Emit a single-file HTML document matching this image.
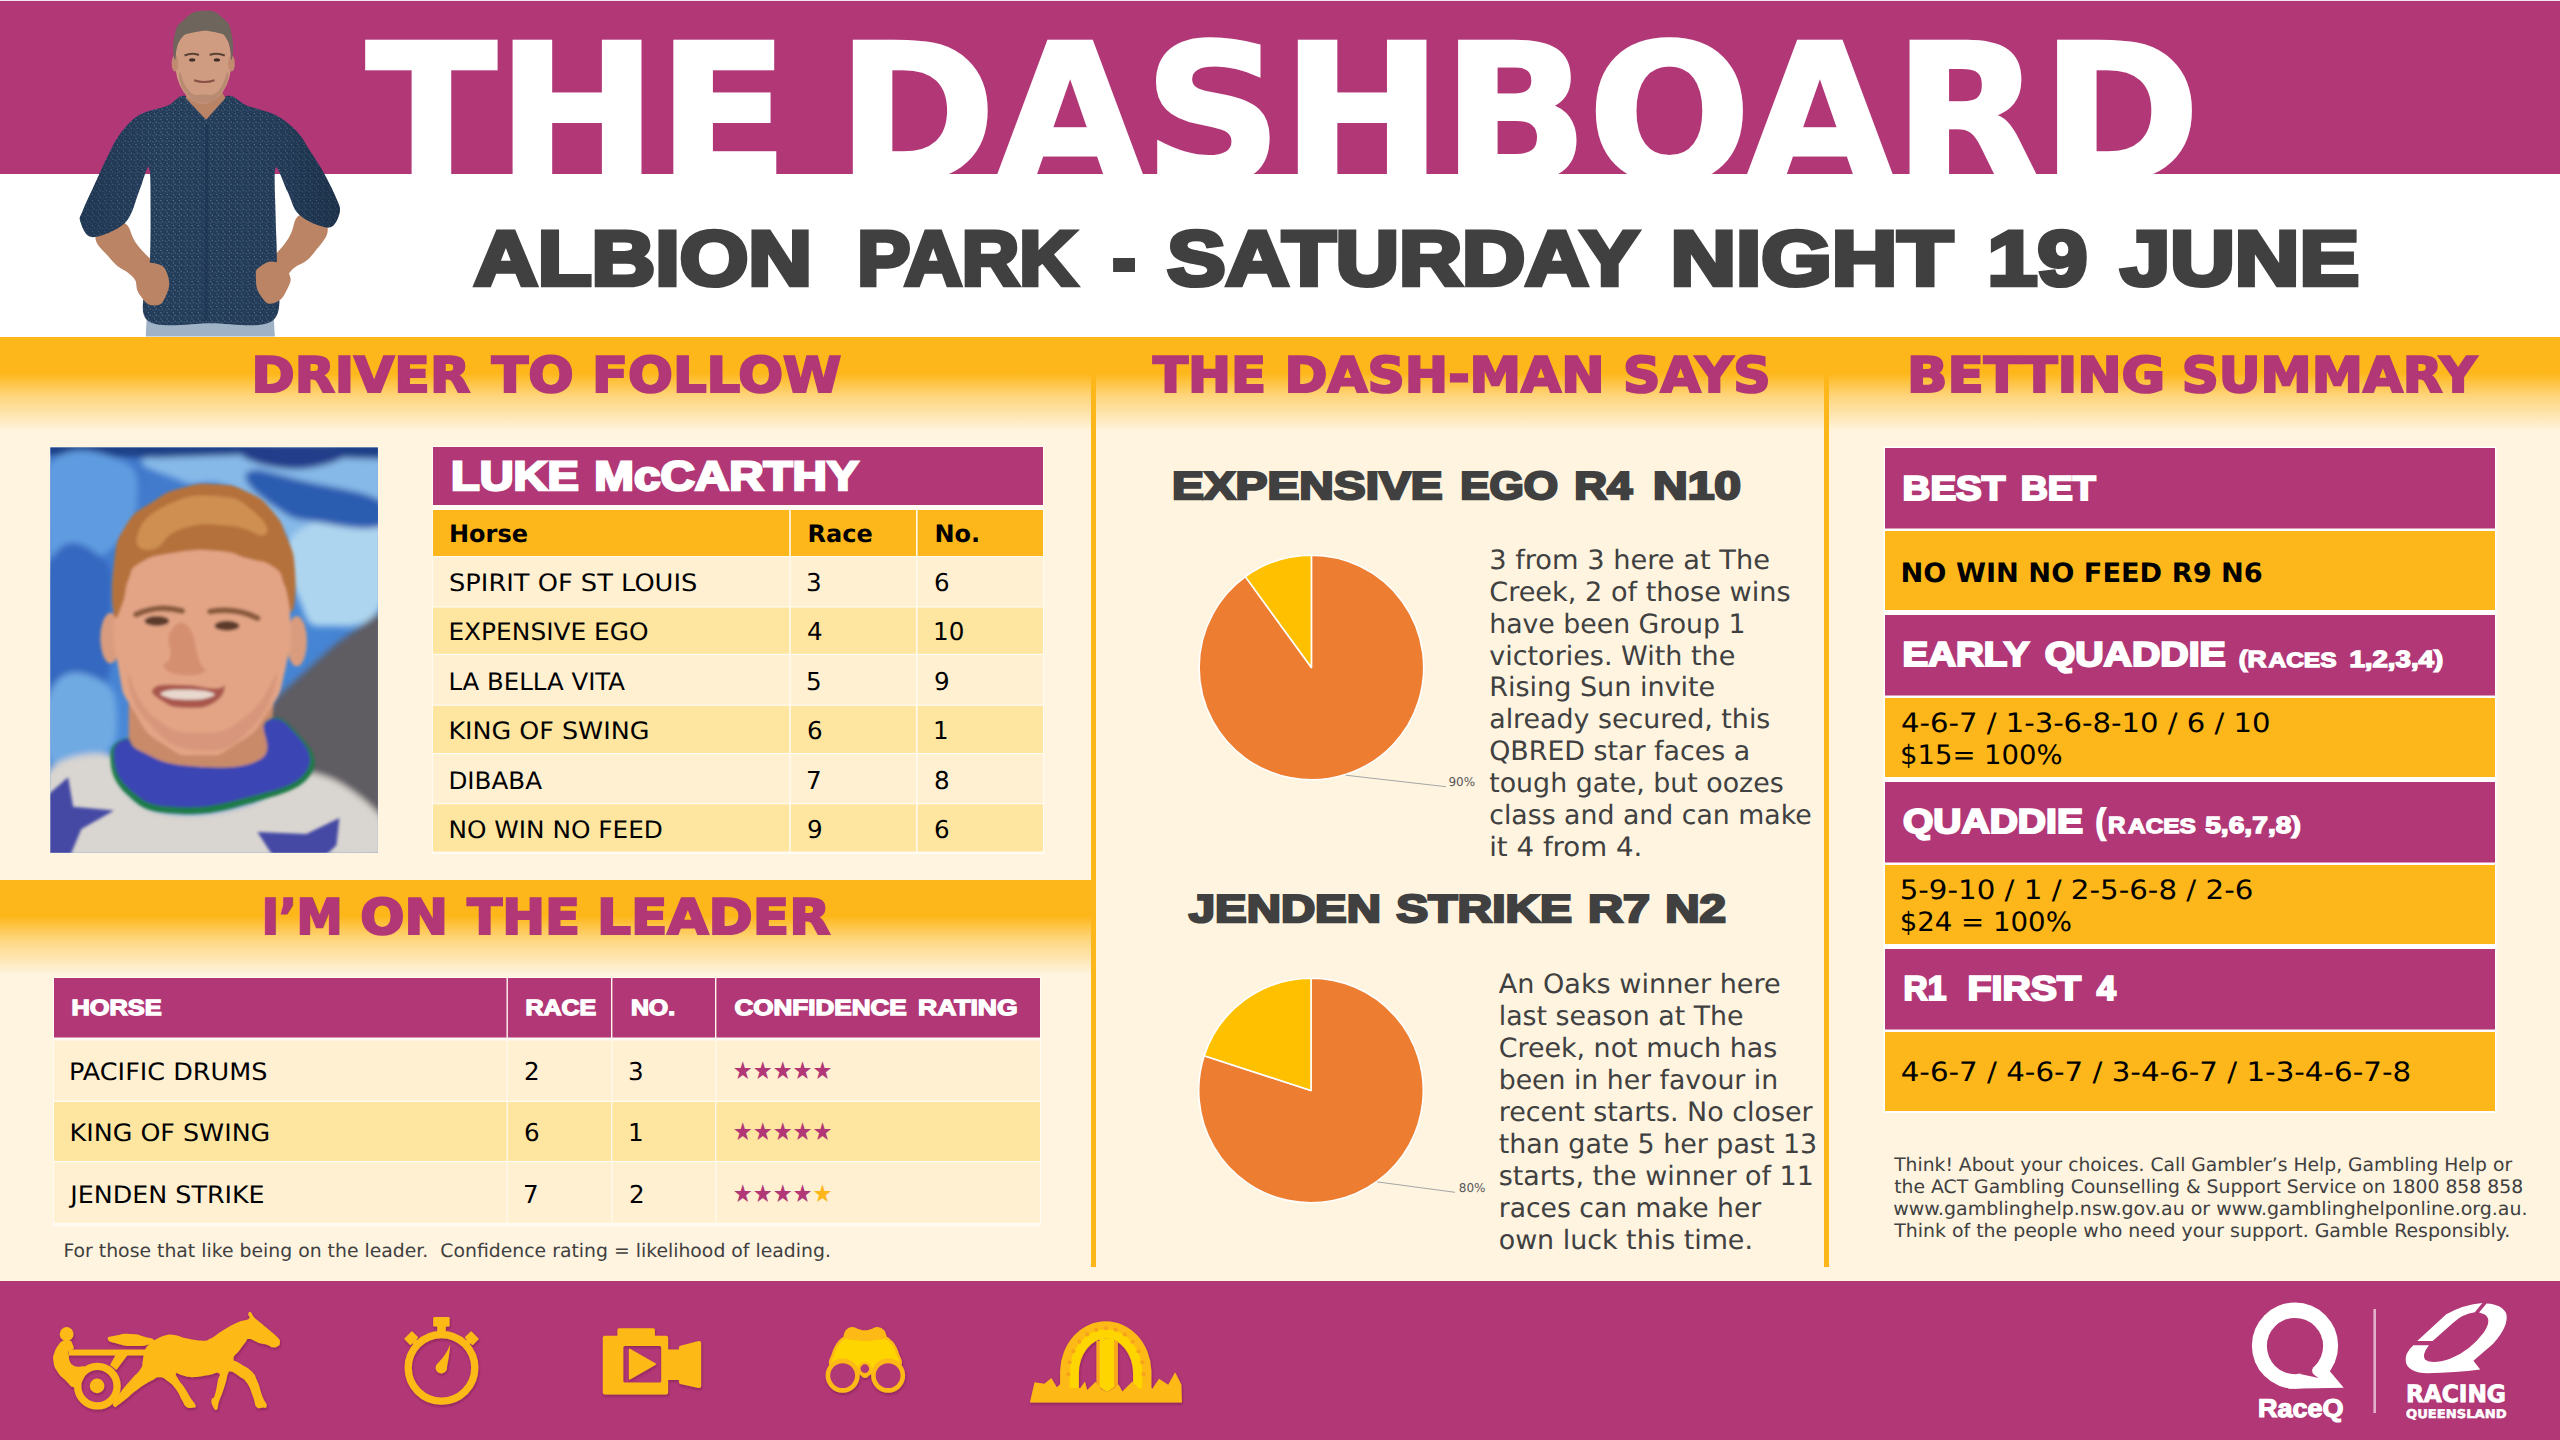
<!DOCTYPE html>
<html lang="en"><head><meta charset="utf-8"><title>The Dashboard - Albion Park - Saturday Night 19 June</title>
<style>
html,body{margin:0;padding:0;background:#FEF4E0;width:2560px;height:1440px;overflow:hidden}
svg{display:block;position:absolute;left:0;top:0}
text{white-space:pre}
</style></head><body>
<svg width="2560" height="1440" viewBox="0 0 2560 1440" text-rendering="geometricPrecision">
<defs>
<linearGradient id="gTop" x1="0" y1="0" x2="0" y2="1">
<stop offset="0" stop-color="#FDB71A"/><stop offset="0.38" stop-color="#FDB71A"/><stop offset="0.62" stop-color="#FED57C"/><stop offset="1" stop-color="#FEF4E0"/>
</linearGradient>
<clipPath id="clipHead"><rect x="0" y="0" width="2560" height="174"/></clipPath>
</defs>
<rect x="0" y="0" width="2560" height="1440" fill="#FEF4E0" />
<rect x="0" y="174" width="2560" height="163" fill="#FFFFFF" />
<rect x="0" y="0" width="2560" height="174" fill="#B13776" />
<rect x="0" y="0" width="2560" height="1" fill="#F3E3EC" />
<rect x="0" y="337" width="2560" height="95" fill="url(#gTop)" />
<rect x="0" y="880" width="1091" height="95" fill="url(#gTop)" />
<rect x="1091" y="337" width="5" height="930" fill="#FDB71A" />
<rect x="1824" y="337" width="5" height="930" fill="#FDB71A" />
<rect x="0" y="1281" width="2560" height="159" fill="#B13776" />
<rect x="432" y="446" width="612" height="408" fill="#FFFFFF" opacity="0.6"/>
<rect x="433" y="447" width="610" height="58" fill="#B13776" />
<rect x="433" y="510" width="610" height="46" fill="#FDB71A" />
<rect x="433" y="557" width="610" height="49.3" fill="#FFF0D2" />
<rect x="433" y="607.5" width="610" height="46.3" fill="#FEE6A0" />
<rect x="433" y="655" width="610" height="49.59999999999995" fill="#FFF0D2" />
<rect x="433" y="705.8" width="610" height="47.20000000000009" fill="#FEE6A0" />
<rect x="433" y="754.2" width="610" height="48.8" fill="#FFF0D2" />
<rect x="433" y="804.2" width="610" height="47.3" fill="#FEE6A0" />
<rect x="789.2" y="510" width="1.6" height="342.5" fill="#FFFAF0" />
<rect x="916" y="510" width="1.6" height="342.5" fill="#FFFAF0" />
<rect x="53" y="977" width="988" height="249.5" fill="#FFFFFF" opacity="0.6"/>
<rect x="54" y="978" width="986" height="59.5" fill="#B13776" />
<rect x="54" y="1040.5" width="986" height="60.3" fill="#FFF0D2" />
<rect x="54" y="1102" width="986" height="59.00000000000004" fill="#FEE6A0" />
<rect x="54" y="1162.2" width="986" height="60.59999999999995" fill="#FFF0D2" />
<rect x="506.5" y="978" width="1.4" height="246.5" fill="#FFF7EA" />
<rect x="611" y="978" width="1.4" height="246.5" fill="#FFF7EA" />
<rect x="715" y="978" width="1.4" height="246.5" fill="#FFF7EA" />
<rect x="1883.5" y="446.5" width="613" height="666.5" fill="#FFFFFF" />
<rect x="1885" y="448" width="610" height="80.5" fill="#B13776" />
<rect x="1885" y="531" width="610" height="79" fill="#FDB71A" />
<rect x="1885" y="615" width="610" height="80.5" fill="#B13776" />
<rect x="1885" y="698" width="610" height="79" fill="#FDB71A" />
<rect x="1885" y="782" width="610" height="80.5" fill="#B13776" />
<rect x="1885" y="865" width="610" height="79" fill="#FDB71A" />
<rect x="1885" y="949" width="610" height="80.5" fill="#B13776" />
<rect x="1885" y="1032" width="610" height="79" fill="#FDB71A" />
<g clip-path="url(#clipHead)">
<text font-family="'DejaVu Sans', 'Liberation Sans', sans-serif" font-size="190" fill="#FFFFFF" font-weight="bold" stroke="#FFFFFF" stroke-width="3.4" stroke-linejoin="miter" stroke-miterlimit="3"><tspan x="366.0" y="180.3" textLength="422.52" lengthAdjust="spacingAndGlyphs">THE</tspan> <tspan x="837.0" y="180.3" textLength="1363.09" lengthAdjust="spacingAndGlyphs">DASHBOARD</tspan></text>
</g>
<text font-family="'Liberation Sans', sans-serif" font-size="77.3" fill="#404040" font-weight="bold" stroke="#404040" stroke-width="4.7" stroke-linejoin="miter" stroke-miterlimit="3"><tspan x="474.0" y="285.25" textLength="337.86" lengthAdjust="spacingAndGlyphs">ALBION</tspan> <tspan x="857.3" y="285.25" textLength="219.45" lengthAdjust="spacingAndGlyphs">PARK</tspan> <tspan x="1112.5" y="285.25" textLength="23.18" lengthAdjust="spacingAndGlyphs">-</tspan> <tspan x="1167.3" y="285.25" textLength="469.88" lengthAdjust="spacingAndGlyphs">SATURDAY</tspan> <tspan x="1670.5" y="285.25" textLength="282.35" lengthAdjust="spacingAndGlyphs">NIGHT</tspan> <tspan x="1987.6" y="285.25" textLength="99.7" lengthAdjust="spacingAndGlyphs">19</tspan> <tspan x="2120.4" y="285.25" textLength="238.72" lengthAdjust="spacingAndGlyphs">JUNE</tspan></text>
<text font-family="'DejaVu Sans', 'Liberation Sans', sans-serif" font-size="49" fill="#B13776" font-weight="bold" stroke="#B13776" stroke-width="2.2" stroke-linejoin="miter" stroke-miterlimit="3"><tspan x="251.5" y="391.9" textLength="218.44" lengthAdjust="spacingAndGlyphs">DRIVER</tspan> <tspan x="491.75" y="391.9" textLength="81.85" lengthAdjust="spacingAndGlyphs">TO</tspan> <tspan x="592.0" y="391.9" textLength="249.3" lengthAdjust="spacingAndGlyphs">FOLLOW</tspan></text>
<text font-family="'DejaVu Sans', 'Liberation Sans', sans-serif" font-size="49" fill="#B13776" font-weight="bold" stroke="#B13776" stroke-width="2.2" stroke-linejoin="miter" stroke-miterlimit="3"><tspan x="1153.0" y="391.9" textLength="113.2" lengthAdjust="spacingAndGlyphs">THE</tspan> <tspan x="1284.5" y="391.9" textLength="320.02" lengthAdjust="spacingAndGlyphs">DASH-MAN</tspan> <tspan x="1623.0" y="391.9" textLength="147.55" lengthAdjust="spacingAndGlyphs">SAYS</tspan></text>
<text font-family="'DejaVu Sans', 'Liberation Sans', sans-serif" font-size="49" fill="#B13776" font-weight="bold" stroke="#B13776" stroke-width="2.2" stroke-linejoin="miter" stroke-miterlimit="3"><tspan x="1907.0" y="391.9" textLength="258.21" lengthAdjust="spacingAndGlyphs">BETTING</tspan> <tspan x="2181.75" y="391.9" textLength="295.07" lengthAdjust="spacingAndGlyphs">SUMMARY</tspan></text>
<text font-family="'DejaVu Sans', 'Liberation Sans', sans-serif" font-size="49" fill="#B13776" font-weight="bold" stroke="#B13776" stroke-width="2.2" stroke-linejoin="miter" stroke-miterlimit="3"><tspan x="261.75" y="934.4" textLength="80.8" lengthAdjust="spacingAndGlyphs">I’M</tspan> <tspan x="360.25" y="934.4" textLength="87.64" lengthAdjust="spacingAndGlyphs">ON</tspan> <tspan x="467.25" y="934.4" textLength="112.7" lengthAdjust="spacingAndGlyphs">THE</tspan> <tspan x="597.0" y="934.4" textLength="233.22" lengthAdjust="spacingAndGlyphs">LEADER</tspan></text>
<text font-family="'Liberation Sans', sans-serif" font-size="41.2" fill="#FFFFFF" font-weight="bold" stroke="#FFFFFF" stroke-width="2.5" stroke-linejoin="miter" stroke-miterlimit="3"><tspan x="451.1" y="490.15" textLength="127.64" lengthAdjust="spacingAndGlyphs">LUKE</tspan> <tspan x="594.3" y="490.15" textLength="264.4" lengthAdjust="spacingAndGlyphs">McCARTHY</tspan></text>
<text x="449.0" y="542" font-family="'DejaVu Sans', 'Liberation Sans', sans-serif" font-size="24" fill="#000" font-weight="bold">Horse</text>
<text x="807.5" y="542" font-family="'DejaVu Sans', 'Liberation Sans', sans-serif" font-size="24" fill="#000" font-weight="bold">Race</text>
<text x="934.5" y="542" font-family="'DejaVu Sans', 'Liberation Sans', sans-serif" font-size="24" fill="#000" font-weight="bold">No.</text>
<text x="449.0" y="590.8" font-family="'DejaVu Sans', 'Liberation Sans', sans-serif" font-size="24" fill="#000" textLength="248.31" lengthAdjust="spacingAndGlyphs">SPIRIT OF ST LOUIS</text>
<text x="806.0" y="590.8" font-family="'DejaVu Sans', 'Liberation Sans', sans-serif" font-size="24.6" fill="#000">3</text>
<text x="934.0" y="590.8" font-family="'DejaVu Sans', 'Liberation Sans', sans-serif" font-size="24.6" fill="#000">6</text>
<text x="448.4" y="639.6" font-family="'DejaVu Sans', 'Liberation Sans', sans-serif" font-size="24" fill="#000" textLength="200.26" lengthAdjust="spacingAndGlyphs">EXPENSIVE EGO</text>
<text x="807.0" y="639.6" font-family="'DejaVu Sans', 'Liberation Sans', sans-serif" font-size="24.6" fill="#000">4</text>
<text x="933.0" y="639.6" font-family="'DejaVu Sans', 'Liberation Sans', sans-serif" font-size="24.6" fill="#000">10</text>
<text x="448.4" y="689.6" font-family="'DejaVu Sans', 'Liberation Sans', sans-serif" font-size="24" fill="#000" textLength="176.69" lengthAdjust="spacingAndGlyphs">LA BELLA VITA</text>
<text x="806.0" y="689.6" font-family="'DejaVu Sans', 'Liberation Sans', sans-serif" font-size="24.6" fill="#000">5</text>
<text x="934.0" y="689.6" font-family="'DejaVu Sans', 'Liberation Sans', sans-serif" font-size="24.6" fill="#000">9</text>
<text x="448.4" y="738.75" font-family="'DejaVu Sans', 'Liberation Sans', sans-serif" font-size="24" fill="#000" textLength="200.99" lengthAdjust="spacingAndGlyphs">KING OF SWING</text>
<text x="807.0" y="738.75" font-family="'DejaVu Sans', 'Liberation Sans', sans-serif" font-size="24.6" fill="#000">6</text>
<text x="933.0" y="738.75" font-family="'DejaVu Sans', 'Liberation Sans', sans-serif" font-size="24.6" fill="#000">1</text>
<text x="448.4" y="788.75" font-family="'DejaVu Sans', 'Liberation Sans', sans-serif" font-size="24" fill="#000" textLength="93.69" lengthAdjust="spacingAndGlyphs">DIBABA</text>
<text x="806.0" y="788.75" font-family="'DejaVu Sans', 'Liberation Sans', sans-serif" font-size="24.6" fill="#000">7</text>
<text x="934.0" y="788.75" font-family="'DejaVu Sans', 'Liberation Sans', sans-serif" font-size="24.6" fill="#000">8</text>
<text x="448.4" y="837.5" font-family="'DejaVu Sans', 'Liberation Sans', sans-serif" font-size="24" fill="#000" textLength="214.55" lengthAdjust="spacingAndGlyphs">NO WIN NO FEED</text>
<text x="807.0" y="837.5" font-family="'DejaVu Sans', 'Liberation Sans', sans-serif" font-size="24.6" fill="#000">9</text>
<text x="934.0" y="837.5" font-family="'DejaVu Sans', 'Liberation Sans', sans-serif" font-size="24.6" fill="#000">6</text>
<text font-family="'Liberation Sans', sans-serif" font-size="22" fill="#FFFFFF" font-weight="bold" stroke="#FFFFFF" stroke-width="1.35" stroke-linejoin="miter" stroke-miterlimit="3"><tspan x="71.5" y="1014.62" textLength="90.14" lengthAdjust="spacingAndGlyphs">HORSE</tspan></text>
<text font-family="'Liberation Sans', sans-serif" font-size="22" fill="#FFFFFF" font-weight="bold" stroke="#FFFFFF" stroke-width="1.35" stroke-linejoin="miter" stroke-miterlimit="3"><tspan x="525.4" y="1014.62" textLength="70.76" lengthAdjust="spacingAndGlyphs">RACE</tspan></text>
<text font-family="'Liberation Sans', sans-serif" font-size="22" fill="#FFFFFF" font-weight="bold" stroke="#FFFFFF" stroke-width="1.35" stroke-linejoin="miter" stroke-miterlimit="3"><tspan x="630.9" y="1014.62" textLength="44.24" lengthAdjust="spacingAndGlyphs">NO.</tspan></text>
<text font-family="'Liberation Sans', sans-serif" font-size="22" fill="#FFFFFF" font-weight="bold" stroke="#FFFFFF" stroke-width="1.35" stroke-linejoin="miter" stroke-miterlimit="3"><tspan x="734.4" y="1014.62" textLength="172.35" lengthAdjust="spacingAndGlyphs">CONFIDENCE</tspan> <tspan x="918.0" y="1014.62" textLength="99.64" lengthAdjust="spacingAndGlyphs">RATING</tspan></text>
<text x="69.1" y="1079.5" font-family="'DejaVu Sans', 'Liberation Sans', sans-serif" font-size="24" fill="#000" textLength="198.27" lengthAdjust="spacingAndGlyphs">PACIFIC DRUMS</text>
<text x="524.0" y="1079.5" font-family="'DejaVu Sans', 'Liberation Sans', sans-serif" font-size="24.6" fill="#000">2</text>
<text x="628.0" y="1079.5" font-family="'DejaVu Sans', 'Liberation Sans', sans-serif" font-size="24.6" fill="#000">3</text>
<text x="69.6" y="1140.6" font-family="'DejaVu Sans', 'Liberation Sans', sans-serif" font-size="24" fill="#000" textLength="200.69" lengthAdjust="spacingAndGlyphs">KING OF SWING</text>
<text x="524.0" y="1140.6" font-family="'DejaVu Sans', 'Liberation Sans', sans-serif" font-size="24.6" fill="#000">6</text>
<text x="628.0" y="1140.6" font-family="'DejaVu Sans', 'Liberation Sans', sans-serif" font-size="24.6" fill="#000">1</text>
<text x="70.3" y="1202.6" font-family="'DejaVu Sans', 'Liberation Sans', sans-serif" font-size="24" fill="#000" textLength="194.33" lengthAdjust="spacingAndGlyphs">JENDEN STRIKE</text>
<text x="523.0" y="1202.6" font-family="'DejaVu Sans', 'Liberation Sans', sans-serif" font-size="24.6" fill="#000">7</text>
<text x="629.0" y="1202.6" font-family="'DejaVu Sans', 'Liberation Sans', sans-serif" font-size="24.6" fill="#000">2</text>
<text x="63.4" y="1257" font-family="'DejaVu Sans', 'Liberation Sans', sans-serif" font-size="18.67" fill="#404040" textLength="767.49" lengthAdjust="spacingAndGlyphs">For those that like being on the leader.  Confidence rating = likelihood of leading.</text>
<text font-family="'Liberation Sans', sans-serif" font-size="39" fill="#404040" font-weight="bold" stroke="#404040" stroke-width="2.4" stroke-linejoin="miter" stroke-miterlimit="3"><tspan x="1171.9" y="498.7" textLength="270.84" lengthAdjust="spacingAndGlyphs">EXPENSIVE</tspan> <tspan x="1460.2" y="498.7" textLength="97.98" lengthAdjust="spacingAndGlyphs">EGO</tspan> <tspan x="1574.3" y="498.7" textLength="57.97" lengthAdjust="spacingAndGlyphs">R4</tspan> <tspan x="1653.0" y="498.7" textLength="87.97" lengthAdjust="spacingAndGlyphs">N10</tspan></text>
<text font-family="'Liberation Sans', sans-serif" font-size="39" fill="#404040" font-weight="bold" stroke="#404040" stroke-width="2.4" stroke-linejoin="miter" stroke-miterlimit="3"><tspan x="1188.7" y="921.5" textLength="192.26" lengthAdjust="spacingAndGlyphs">JENDEN</tspan> <tspan x="1396.3" y="921.5" textLength="175.72" lengthAdjust="spacingAndGlyphs">STRIKE</tspan> <tspan x="1587.9" y="921.5" textLength="61.97" lengthAdjust="spacingAndGlyphs">R7</tspan> <tspan x="1665.3" y="921.5" textLength="60.75" lengthAdjust="spacingAndGlyphs">N2</tspan></text>
<text x="1489.2" y="568.6" font-family="'DejaVu Sans', 'Liberation Sans', sans-serif" font-size="26.67" fill="#404040" textLength="280.77" lengthAdjust="spacingAndGlyphs">3 from 3 here at The</text>
<text x="1489.2" y="600.57" font-family="'DejaVu Sans', 'Liberation Sans', sans-serif" font-size="26.67" fill="#404040" textLength="301.41" lengthAdjust="spacingAndGlyphs">Creek, 2 of those wins</text>
<text x="1489.2" y="632.54" font-family="'DejaVu Sans', 'Liberation Sans', sans-serif" font-size="26.67" fill="#404040" textLength="256.37" lengthAdjust="spacingAndGlyphs">have been Group 1</text>
<text x="1489.2" y="664.51" font-family="'DejaVu Sans', 'Liberation Sans', sans-serif" font-size="26.67" fill="#404040" textLength="246.17" lengthAdjust="spacingAndGlyphs">victories. With the</text>
<text x="1489.2" y="696.48" font-family="'DejaVu Sans', 'Liberation Sans', sans-serif" font-size="26.67" fill="#404040" textLength="226.05" lengthAdjust="spacingAndGlyphs">Rising Sun invite</text>
<text x="1489.2" y="728.45" font-family="'DejaVu Sans', 'Liberation Sans', sans-serif" font-size="26.67" fill="#404040" textLength="281.15" lengthAdjust="spacingAndGlyphs">already secured, this</text>
<text x="1489.2" y="760.42" font-family="'DejaVu Sans', 'Liberation Sans', sans-serif" font-size="26.67" fill="#404040" textLength="261.04" lengthAdjust="spacingAndGlyphs">QBRED star faces a</text>
<text x="1489.2" y="792.39" font-family="'DejaVu Sans', 'Liberation Sans', sans-serif" font-size="26.67" fill="#404040" textLength="294.44" lengthAdjust="spacingAndGlyphs">tough gate, but oozes</text>
<text x="1489.2" y="824.36" font-family="'DejaVu Sans', 'Liberation Sans', sans-serif" font-size="26.67" fill="#404040" textLength="322.45" lengthAdjust="spacingAndGlyphs">class and and can make</text>
<text x="1489.2" y="856.33" font-family="'DejaVu Sans', 'Liberation Sans', sans-serif" font-size="26.67" fill="#404040" textLength="153.21" lengthAdjust="spacingAndGlyphs">it 4 from 4.</text>
<text x="1498.7" y="993.1" font-family="'DejaVu Sans', 'Liberation Sans', sans-serif" font-size="26.67" fill="#404040" textLength="282.04" lengthAdjust="spacingAndGlyphs">An Oaks winner here</text>
<text x="1498.7" y="1025.06" font-family="'DejaVu Sans', 'Liberation Sans', sans-serif" font-size="26.67" fill="#404040" textLength="244.78" lengthAdjust="spacingAndGlyphs">last season at The</text>
<text x="1498.7" y="1057.02" font-family="'DejaVu Sans', 'Liberation Sans', sans-serif" font-size="26.67" fill="#404040" textLength="278.51" lengthAdjust="spacingAndGlyphs">Creek, not much has</text>
<text x="1498.7" y="1088.98" font-family="'DejaVu Sans', 'Liberation Sans', sans-serif" font-size="26.67" fill="#404040" textLength="279.44" lengthAdjust="spacingAndGlyphs">been in her favour in</text>
<text x="1498.7" y="1120.94" font-family="'DejaVu Sans', 'Liberation Sans', sans-serif" font-size="26.67" fill="#404040" textLength="313.92" lengthAdjust="spacingAndGlyphs">recent starts. No closer</text>
<text x="1498.7" y="1152.9" font-family="'DejaVu Sans', 'Liberation Sans', sans-serif" font-size="26.67" fill="#404040" textLength="318.5" lengthAdjust="spacingAndGlyphs">than gate 5 her past 13</text>
<text x="1498.7" y="1184.86" font-family="'DejaVu Sans', 'Liberation Sans', sans-serif" font-size="26.67" fill="#404040" textLength="315.08" lengthAdjust="spacingAndGlyphs">starts, the winner of 11</text>
<text x="1498.7" y="1216.82" font-family="'DejaVu Sans', 'Liberation Sans', sans-serif" font-size="26.67" fill="#404040" textLength="262.58" lengthAdjust="spacingAndGlyphs">races can make her</text>
<text x="1498.7" y="1248.78" font-family="'DejaVu Sans', 'Liberation Sans', sans-serif" font-size="26.67" fill="#404040" textLength="254.27" lengthAdjust="spacingAndGlyphs">own luck this time.</text>
<text x="1448.4" y="786" font-family="'DejaVu Sans', 'Liberation Sans', sans-serif" font-size="12" fill="#595959">90%</text>
<text x="1458.8" y="1192.2" font-family="'DejaVu Sans', 'Liberation Sans', sans-serif" font-size="12" fill="#595959">80%</text>
<text font-family="'Liberation Sans', sans-serif" font-size="34.4" fill="#FFFFFF" font-weight="bold" stroke="#FFFFFF" stroke-width="2.1" stroke-linejoin="miter" stroke-miterlimit="3"><tspan x="1902.6" y="499.65" textLength="102.79" lengthAdjust="spacingAndGlyphs">BEST</tspan> <tspan x="2020.7" y="499.65" textLength="75.09" lengthAdjust="spacingAndGlyphs">BET</tspan></text>
<text x="1900.5" y="582.3" font-family="'DejaVu Sans', 'Liberation Sans', sans-serif" font-size="26.67" fill="#000" font-weight="bold" textLength="362.32" lengthAdjust="spacingAndGlyphs">NO WIN NO FEED R9 N6</text>
<text font-family="'Liberation Sans', sans-serif" font-size="34.4" fill="#FFFFFF" font-weight="bold" stroke="#FFFFFF" stroke-width="2.1" stroke-linejoin="miter" stroke-miterlimit="3"><tspan x="1902.6" y="666.35" textLength="126.23" lengthAdjust="spacingAndGlyphs">EARLY</tspan> <tspan x="2044.7" y="666.35" textLength="181.14" lengthAdjust="spacingAndGlyphs">QUADDIE</tspan> <tspan x="2238.8" y="666.7" font-size="23.4" stroke-width="1.4" textLength="27.85" lengthAdjust="spacingAndGlyphs">(R</tspan> <tspan x="2268.5" y="666.77" font-size="20.5" stroke-width="1.25" textLength="67.96" lengthAdjust="spacingAndGlyphs">ACES</tspan> <tspan x="2349.4" y="666.7" font-size="23.4" stroke-width="1.4" textLength="93.79" lengthAdjust="spacingAndGlyphs">1,2,3,4)</tspan></text>
<text x="1901.0" y="731.5" font-family="'DejaVu Sans', 'Liberation Sans', sans-serif" font-size="26.67" fill="#000" textLength="369.5" lengthAdjust="spacingAndGlyphs">4-6-7 / 1-3-6-8-10 / 6 / 10</text>
<text x="1900.0" y="763.5" font-family="'DejaVu Sans', 'Liberation Sans', sans-serif" font-size="26.67" fill="#000" textLength="162.59" lengthAdjust="spacingAndGlyphs">$15= 100%</text>
<text font-family="'Liberation Sans', sans-serif" font-size="34.4" fill="#FFFFFF" font-weight="bold" stroke="#FFFFFF" stroke-width="2.1" stroke-linejoin="miter" stroke-miterlimit="3"><tspan x="1902.9" y="833.05" textLength="180.04" lengthAdjust="spacingAndGlyphs">QUADDIE</tspan> <tspan x="2095.8" y="833.05" textLength="9.69" lengthAdjust="spacingAndGlyphs">(</tspan> <tspan x="2108.0" y="833.4" font-size="23.4" stroke-width="1.4" textLength="17.38" lengthAdjust="spacingAndGlyphs">R</tspan> <tspan x="2128.0" y="833.48" font-size="20.5" stroke-width="1.25" textLength="67.86" lengthAdjust="spacingAndGlyphs">ACES</tspan> <tspan x="2205.2" y="833.4" font-size="23.4" stroke-width="1.4" textLength="95.6" lengthAdjust="spacingAndGlyphs">5,6,7,8)</tspan></text>
<text x="1899.7" y="898.8" font-family="'DejaVu Sans', 'Liberation Sans', sans-serif" font-size="26.67" fill="#000" textLength="353.66" lengthAdjust="spacingAndGlyphs">5-9-10 / 1 / 2-5-6-8 / 2-6</text>
<text x="1899.7" y="931" font-family="'DejaVu Sans', 'Liberation Sans', sans-serif" font-size="26.67" fill="#000" textLength="172.19" lengthAdjust="spacingAndGlyphs">$24 = 100%</text>
<text font-family="'Liberation Sans', sans-serif" font-size="34.4" fill="#FFFFFF" font-weight="bold" stroke="#FFFFFF" stroke-width="2.1" stroke-linejoin="miter" stroke-miterlimit="3"><tspan x="1903.6" y="999.65" textLength="42.8" lengthAdjust="spacingAndGlyphs">R1</tspan> <tspan x="1967.5" y="999.65" textLength="113.52" lengthAdjust="spacingAndGlyphs">FIRST</tspan> <tspan x="2096.8" y="999.65" textLength="19.14" lengthAdjust="spacingAndGlyphs">4</tspan></text>
<text x="1900.7" y="1081" font-family="'DejaVu Sans', 'Liberation Sans', sans-serif" font-size="26.67" fill="#000" textLength="510.42" lengthAdjust="spacingAndGlyphs">4-6-7 / 4-6-7 / 3-4-6-7 / 1-3-4-6-7-8</text>
<text x="1894.2" y="1170.5" font-family="'DejaVu Sans', 'Liberation Sans', sans-serif" font-size="18.67" fill="#404040" textLength="617.9" lengthAdjust="spacingAndGlyphs">Think! About your choices. Call Gambler’s Help, Gambling Help or</text>
<text x="1894.2" y="1192.6" font-family="'DejaVu Sans', 'Liberation Sans', sans-serif" font-size="18.67" fill="#404040" textLength="628.91" lengthAdjust="spacingAndGlyphs">the ACT Gambling Counselling &amp; Support Service on 1800 858 858</text>
<text x="1893.2" y="1214.8" font-family="'DejaVu Sans', 'Liberation Sans', sans-serif" font-size="18.67" fill="#404040" textLength="634.33" lengthAdjust="spacingAndGlyphs">www.gamblinghelp.nsw.gov.au or www.gamblinghelponline.org.au.</text>
<text x="1894.2" y="1237" font-family="'DejaVu Sans', 'Liberation Sans', sans-serif" font-size="18.67" fill="#404040" textLength="616.19" lengthAdjust="spacingAndGlyphs">Think of the people who need your support. Gamble Responsibly.</text>
<path d="M1311.4,667.5 L1311.4,555.2 A112.3,112.3 0 1 1 1245.39,576.65 Z" fill="#ED7D31" stroke="#FFFFFF" stroke-width="1.6" stroke-linejoin="round"/>
<path d="M1311.4,667.5 L1245.39,576.65 A112.3,112.3 0 0 1 1311.4,555.2 Z" fill="#FFC000" stroke="#FFFFFF" stroke-width="1.6" stroke-linejoin="round"/>
<path d="M1345.5,775.2 L1446,786.7" stroke="#A6A6A6" stroke-width="1" fill="none"/>
<path d="M1311,1090.5 L1311,978.2 A112.3,112.3 0 1 1 1204.20,1055.80 Z" fill="#ED7D31" stroke="#FFFFFF" stroke-width="1.6" stroke-linejoin="round"/>
<path d="M1311,1090.5 L1204.20,1055.80 A112.3,112.3 0 0 1 1311,978.2 Z" fill="#FFC000" stroke="#FFFFFF" stroke-width="1.6" stroke-linejoin="round"/>
<path d="M1377.2,1181.9 L1455,1192.3" stroke="#A6A6A6" stroke-width="1" fill="none"/>
<text x="732.7" y="1078.9" font-family="'DejaVu Sans', sans-serif" font-size="24.5" textLength="99.88" lengthAdjust="spacingAndGlyphs" fill="#B13776">★★★★★</text>
<text x="732.7" y="1140" font-family="'DejaVu Sans', sans-serif" font-size="24.5" textLength="99.88" lengthAdjust="spacingAndGlyphs" fill="#B13776">★★★★★</text>
<text x="732.7" y="1201.9" font-family="'DejaVu Sans', sans-serif" font-size="24.5" textLength="99.88" lengthAdjust="spacingAndGlyphs" fill="#B13776">★★★★<tspan fill="#FDB71A">★</tspan></text>
<filter id="ish" x="-10%" y="-10%" width="120%" height="130%"><feDropShadow dx="0.6" dy="1.6" stdDeviation="1.1" flood-color="#6E1443" flood-opacity="0.55"/></filter>
<g filter="url(#ish)"><g transform="translate(40,1300) scale(0.101563)" fill="#FDB913">
<circle cx="262" cy="335" r="68"/>
<path d="M232.0,398.0C202.6,409.4 202.8,414.1 180.0,445.0C157.2,475.9 154.2,480.7 142.0,520.0C129.8,559.3 125.4,554.4 132.0,600.0C138.6,645.6 138.1,651.9 168.0,700.0C197.9,748.1 205.2,750.0 250.0,790.0C294.8,830.0 299.4,863.1 345.0,858.0C390.6,852.9 404.7,818.9 430.0,770.0C455.3,721.1 460.2,693.6 445.0,665.0C429.8,636.4 401.2,663.3 370.0,657.0C338.8,650.7 341.8,654.4 322.0,640.0C302.2,625.6 301.6,622.8 292.0,600.0C282.4,577.2 286.0,575.3 284.0,550.0C282.0,524.7 272.3,517.7 284.0,500.0C295.7,482.3 321.4,497.7 330.0,480.0C338.6,462.3 326.6,450.3 318.0,430.0C309.4,409.7 317.8,408.1 296.0,400.0C274.2,391.9 261.4,386.6 232.0,398.0Z"/>
<rect x="284" y="488" width="756" height="58"/>
<circle cx="565" cy="848" r="194" fill="none" stroke="#FDB913" stroke-width="72"/>
<circle cx="562" cy="845" r="72"/>
<path d="M745.0,540.0L865.0,540.0L752.0,688.0L690.0,640.0Z"/>
<path d="M668.0,385.0C661.3,356.0 682.7,364.7 760.0,348.0C837.3,331.3 813.3,331.0 900.0,335.0C986.7,339.0 945.0,338.3 1020.0,360.0C1095.0,381.7 1111.7,373.3 1125.0,400.0C1138.3,426.7 1125.0,422.7 1060.0,440.0C995.0,457.3 1023.3,453.7 930.0,452.0C836.7,450.3 867.3,457.3 780.0,435.0C692.7,412.7 674.7,414.0 668.0,385.0Z"/>
<path d="M1130.0,395.0C1170.0,373.7 1179.3,363.3 1230.0,350.0C1280.7,336.7 1261.3,337.0 1320.0,345.0C1378.7,353.0 1375.3,365.3 1450.0,380.0C1524.7,394.7 1538.7,400.0 1600.0,400.0C1661.3,400.0 1626.7,406.7 1680.0,380.0C1733.3,353.3 1728.0,342.7 1800.0,300.0C1872.0,257.3 1882.0,250.7 1950.0,220.0C2018.0,189.3 2028.3,206.3 2055.0,185.0C2081.7,163.7 2045.5,157.9 2050.0,140.0C2054.5,122.1 2058.7,112.7 2072.0,118.0C2085.3,123.3 2083.2,139.5 2100.0,160.0C2116.8,180.5 2095.0,160.3 2135.0,195.0C2175.0,229.7 2195.3,243.3 2250.0,290.0C2304.7,336.7 2310.1,335.3 2340.0,370.0C2369.9,404.7 2362.0,397.3 2362.0,420.0C2362.0,442.7 2359.2,443.0 2340.0,455.0C2320.8,467.0 2316.7,468.5 2290.0,465.0C2263.3,461.5 2277.3,454.0 2240.0,442.0C2202.7,430.0 2198.0,435.2 2150.0,420.0C2102.0,404.8 2094.7,385.0 2060.0,385.0C2025.3,385.0 2046.7,389.3 2020.0,420.0C1993.3,450.7 1990.7,457.9 1960.0,500.0C1929.3,542.1 1903.7,545.5 1905.0,578.0C1906.3,610.5 1918.3,589.5 1965.0,622.0C2011.7,654.5 2033.3,652.5 2080.0,700.0C2126.7,747.5 2110.7,733.3 2140.0,800.0C2169.3,866.7 2165.5,886.0 2190.0,950.0C2214.5,1014.0 2233.3,1010.7 2232.0,1040.0C2230.7,1069.3 2212.2,1057.3 2185.0,1060.0C2157.8,1062.7 2152.7,1076.7 2130.0,1050.0C2107.3,1023.3 2124.0,1021.3 2100.0,960.0C2076.0,898.7 2077.3,876.0 2040.0,820.0C2002.7,764.0 2002.7,780.7 1960.0,750.0C1917.3,719.3 1908.8,712.5 1880.0,705.0C1851.2,697.5 1864.8,696.7 1852.0,722.0C1839.2,747.3 1845.9,752.5 1832.0,800.0C1818.1,847.5 1818.7,846.7 1800.0,900.0C1781.3,953.3 1778.0,952.0 1762.0,1000.0C1746.0,1048.0 1756.5,1069.3 1740.0,1080.0C1723.5,1090.7 1713.3,1066.7 1700.0,1040.0C1686.7,1013.3 1684.7,1006.7 1690.0,980.0C1695.3,953.3 1704.0,988.0 1720.0,940.0C1736.0,892.0 1739.3,858.1 1750.0,800.0C1760.7,741.9 1786.7,737.5 1760.0,722.0C1733.3,706.5 1719.3,731.9 1650.0,742.0C1580.7,752.1 1566.7,760.0 1500.0,760.0C1433.3,760.0 1442.7,752.1 1400.0,742.0C1357.3,731.9 1350.1,711.9 1340.0,722.0C1329.9,732.1 1340.7,743.2 1362.0,780.0C1383.3,816.8 1388.5,812.0 1420.0,860.0C1451.5,908.0 1450.1,912.0 1480.0,960.0C1509.9,1008.0 1526.7,1013.3 1532.0,1040.0C1537.3,1066.7 1524.5,1057.3 1500.0,1060.0C1475.5,1062.7 1466.7,1068.7 1440.0,1050.0C1413.3,1031.3 1426.7,1035.3 1400.0,990.0C1373.3,944.7 1377.3,930.7 1340.0,880.0C1302.7,829.3 1302.7,832.0 1260.0,800.0C1217.3,768.0 1222.7,762.1 1180.0,760.0C1137.3,757.9 1158.7,760.0 1100.0,792.0C1041.3,824.0 1029.3,829.9 960.0,880.0C890.7,930.1 893.3,937.3 840.0,980.0C786.7,1022.7 788.0,1021.3 760.0,1040.0C732.0,1058.7 744.3,1058.0 735.0,1050.0C725.7,1042.0 707.7,1050.0 725.0,1010.0C742.3,970.0 753.3,961.3 800.0,900.0C846.7,838.7 849.3,838.7 900.0,780.0C950.7,721.3 960.1,728.0 990.0,680.0C1019.9,632.0 1000.8,648.0 1012.0,600.0C1023.2,552.0 1013.9,545.3 1032.0,500.0C1050.1,454.7 1053.9,458.0 1080.0,430.0C1106.1,402.0 1090.0,416.3 1130.0,395.0Z"/>
</g></g>
<g fill="#FDB913" filter="url(#ish)">
<circle cx="441.5" cy="1367.8" r="33.3" fill="none" stroke="#FDB913" stroke-width="7.3"/>
<rect x="433.2" y="1317" width="16.4" height="9.4" rx="1.2"/><rect x="437.2" y="1325" width="8.6" height="8"/>
<rect x="-5.6" y="-4.6" width="11.2" height="9.2" rx="1" transform="translate(411.2,1338.2) rotate(-45)"/><rect x="-2.5" y="-3" width="5" height="7" transform="translate(415.5,1342.5) rotate(-45)"/>
<rect x="-5.6" y="-4.6" width="11.2" height="9.2" rx="1" transform="translate(471.8,1338.2) rotate(45)"/><rect x="-2.5" y="-3" width="5" height="7" transform="translate(467.5,1342.5) rotate(45)"/>
<circle cx="441.3" cy="1367.8" r="5.7"/><path d="M437.6,1363.6 Q445.5,1356 450.4,1344.6 Q449,1358 446.4,1370 Z"/>
</g>
<g fill="#FDB913" filter="url(#ish)">
<path fill-rule="evenodd" d="M604.8,1335.7 H617.4 V1330 Q617.4,1328.2 619.2,1328.2 H653.1 Q654.9,1328.2 654.9,1330 V1335.7 H666.1 Q668.1,1335.7 668.1,1337.7 V1349.6 H678.9 V1347.6 Q678.9,1346.1 680.4,1345.7 L698.6,1341 Q701.1,1340.6 701.1,1343 V1386 Q701.1,1388.4 698.6,1388 L680.4,1384 Q678.9,1383.6 678.9,1382.1 V1380.1 H668.1 V1392.4 Q668.1,1394.4 666.1,1394.4 H604.8 Q602.8,1394.4 602.8,1392.4 V1337.7 Q602.8,1335.7 604.8,1335.7 Z M624.8,1346.1 Q623.3,1346.1 623.3,1347.6 V1381.1 Q623.3,1382.6 624.8,1382.6 H659.7 Q661.2,1382.6 661.2,1381.1 V1347.6 Q661.2,1346.1 659.7,1346.1 Z"/>
<path d="M628.9,1350 Q628.9,1348.2 630.5,1349.1 L655.4,1363.3 Q656.9,1364.2 655.4,1365.1 L630.5,1379.3 Q628.9,1380.2 628.9,1378.4 Z"/>
</g>
<g filter="url(#ish)"><g transform="translate(810,1310) scale(0.069444)">
<path d="M300.0,800.0C262.7,730.7 308.7,714.7 330.0,640.0C351.3,565.3 350.7,573.3 380.0,520.0C409.3,466.7 406.7,476.0 440.0,440.0C473.3,404.0 482.3,421.0 505.0,385.0C527.7,349.0 499.7,337.8 525.0,305.0C550.3,272.2 556.0,266.0 600.0,262.0C644.0,258.0 639.3,277.2 690.0,290.0C740.7,302.8 736.7,310.0 790.0,310.0C843.3,310.0 840.7,302.8 890.0,290.0C939.3,277.2 931.0,258.0 975.0,262.0C1019.0,266.0 1025.7,272.2 1055.0,305.0C1084.3,337.8 1059.7,349.0 1085.0,385.0C1110.3,421.0 1115.3,404.0 1150.0,440.0C1184.7,476.0 1184.3,466.7 1215.0,520.0C1245.7,573.3 1243.7,565.3 1265.0,640.0C1286.3,714.7 1332.3,730.7 1295.0,800.0C1257.7,869.3 1230.3,873.3 1125.0,900.0C1019.7,926.7 989.3,884.0 900.0,900.0C810.7,916.0 846.0,960.0 790.0,960.0C734.0,960.0 775.3,916.0 690.0,900.0C604.7,884.0 574.0,926.7 470.0,900.0C366.0,873.3 337.3,869.3 300.0,800.0Z" fill="#FFD500" stroke="#FDB913" stroke-width="36" stroke-linejoin="round"/>
<path d="M500.0,400.0C465.3,365.1 493.3,342.9 520.0,305.0C546.7,267.1 554.7,262.5 600.0,258.0C645.3,253.5 639.3,274.7 690.0,288.0C740.7,301.3 736.7,308.0 790.0,308.0C843.3,308.0 840.7,301.3 890.0,288.0C939.3,274.7 929.7,253.5 975.0,258.0C1020.3,262.5 1030.7,267.1 1060.0,305.0C1089.3,342.9 1119.7,365.1 1085.0,400.0C1050.3,434.9 1008.7,423.7 930.0,436.0C851.3,448.3 864.7,446.0 790.0,446.0C715.3,446.0 727.3,448.3 650.0,436.0C572.7,423.7 534.7,434.9 500.0,400.0Z" fill="#FDB913"/>
<circle cx="470" cy="945" r="212" fill="#B13776" stroke="#FDB913" stroke-width="66"/>
<circle cx="1125" cy="945" r="212" fill="#B13776" stroke="#FDB913" stroke-width="66"/>
<circle cx="790" cy="845" r="79" fill="#B13776" stroke="#FDB913" stroke-width="34"/>
</g></g>
<g filter="url(#ish)"><g transform="translate(1020,1305) scale(0.076394)">
<path fill-rule="evenodd" fill="#FDB913" d="M525,1180 V860 A598,675 0 0 1 1720,860 V1180 Z M770,1180 V900 A355,460 0 0 1 1480,900 V1180 Z"/>
<path fill="none" stroke="#FFD500" stroke-width="118" d="M708,1180 V890 A417,515 0 0 1 1542,890 V1180"/>
<circle cx="633" cy="905" r="27" fill="#F7A21B"/>
<circle cx="650" cy="750" r="27" fill="#F7A21B"/>
<circle cx="699" cy="605" r="27" fill="#F7A21B"/>
<circle cx="777" cy="481" r="27" fill="#F7A21B"/>
<circle cx="879" cy="385" r="27" fill="#F7A21B"/>
<circle cx="998" cy="325" r="27" fill="#F7A21B"/>
<circle cx="1125" cy="305" r="27" fill="#F7A21B"/>
<circle cx="1252" cy="325" r="27" fill="#F7A21B"/>
<circle cx="1371" cy="385" r="27" fill="#F7A21B"/>
<circle cx="1473" cy="481" r="27" fill="#F7A21B"/>
<circle cx="1551" cy="605" r="27" fill="#F7A21B"/>
<circle cx="1600" cy="750" r="27" fill="#F7A21B"/>
<circle cx="1617" cy="905" r="27" fill="#F7A21B"/>
<path fill="#F9A61A" d="M1000,470 H1282 V1060 L1140,1140 L1000,1060 Z"/>
<path fill="#FFD500" d="M1042,440 H1232 V1070 L1140,1135 L1042,1070 Z"/>
<path fill="#FDB913" d="M130.0,1275.0L190.0,1010.0L320.0,1030.0L410.0,955.0L482.0,1078.0L545.0,1020.0L640.0,1090.0L790.0,1085.0L850.0,1000.0L880.0,1112.0L990.0,1005.0L1060.0,1100.0L1140.0,1140.0L1230.0,1090.0L1290.0,1040.0L1340.0,1132.0L1470.0,1000.0L1560.0,1100.0L1700.0,1060.0L1730.0,1100.0L1820.0,965.0L1940.0,1045.0L2030.0,880.0L2112.0,1040.0L2120.0,1275.0Z"/>
</g></g>
<g transform="translate(2235,1295) scale(0.09375)" fill="#FFFFFF">
<circle cx="640" cy="540" r="460"/><path d="M985,780 L1160,988 L560,1000 Z"/>
<circle cx="640" cy="545" r="300" fill="#B13776"/><path d="M835,770 Q790,830 892,884 Q770,858 690,842 Z" fill="#B13776"/>
</g>
<text font-family="'Liberation Sans', sans-serif" font-size="25.5" fill="#FFFFFF" font-weight="bold" stroke="#FFFFFF" stroke-width="1.2" stroke-linejoin="miter" stroke-miterlimit="3"><tspan x="2258.0" y="1416.7" textLength="85.49" lengthAdjust="spacingAndGlyphs">RaceQ</tspan></text>
<rect x="2373.4" y="1309" width="2.6" height="104" fill="#FFFFFF" opacity="0.62"/>
<g transform="translate(2390,1295) scale(0.09377)" fill="#FFFFFF">
<path d="M290,490 L600,205 Q790,100 985,85 L905,185 Q775,205 680,290 L455,490 Z"/>
<path d="M250,535 L415,535 Q335,640 375,690 Q450,745 640,680 Q850,600 1000,400 Q1095,255 1005,205 L950,187 L1030,90 Q1200,100 1240,200 Q1270,330 1100,520 L890,700 L962,795 Q700,830 400,835 Q200,830 170,720 Q150,620 250,535 Z"/>
</g>
<text font-family="'DejaVu Sans', 'Liberation Sans', sans-serif" font-size="23.6" fill="#FFFFFF" font-weight="bold" stroke="#FFFFFF" stroke-width="0.9" stroke-linejoin="miter" stroke-miterlimit="3"><tspan x="2405.9" y="1401.95" textLength="100.01" lengthAdjust="spacingAndGlyphs">RACING</tspan></text>
<text font-family="'DejaVu Sans', 'Liberation Sans', sans-serif" font-size="12" fill="#FFFFFF" font-weight="bold" stroke="#FFFFFF" stroke-width="0.5" stroke-linejoin="miter" stroke-miterlimit="3"><tspan x="2406.0" y="1417.55" textLength="100.67" lengthAdjust="spacingAndGlyphs">QUEENSLAND</tspan></text>
<defs><pattern id="speck" width="26" height="26" patternUnits="userSpaceOnUse"><rect width="26" height="26" fill="#223A56"/><circle cx="5" cy="6" r="2.3" fill="#86A6C6"/><circle cx="18" cy="3" r="1.8" fill="#5F82A8"/><circle cx="12" cy="15" r="2.3" fill="#93B0CE"/><circle cx="23" cy="19" r="2" fill="#6C8DB2"/><circle cx="4" cy="22" r="1.8" fill="#7698BC"/></pattern><linearGradient id="shirtShade" x1="0" y1="0" x2="1" y2="0"><stop offset="0" stop-color="#1B2F4A" stop-opacity="0.45"/><stop offset="0.3" stop-color="#1B2F4A" stop-opacity="0"/><stop offset="0.7" stop-color="#1B2F4A" stop-opacity="0.1"/><stop offset="1" stop-color="#14233A" stop-opacity="0.5"/></linearGradient><filter id="soft1" x="-5%" y="-5%" width="110%" height="110%"><feGaussianBlur stdDeviation="2.2"/></filter></defs>
<g transform="translate(60,0) scale(0.23952)" filter="url(#soft1)">
<path d="M362.0,1320.0L892.0,1320.0L897.0,1405.0L358.0,1405.0Z" fill="#9FB2C6"/>
<path d="M150.0,975.0C161.5,933.1 208.3,911.7 255.0,925.0C301.7,938.3 286.3,977.0 325.0,1025.0C363.7,1073.0 371.5,1071.7 400.0,1105.0C428.5,1138.3 446.7,1123.3 432.0,1150.0C417.3,1176.7 380.7,1205.0 345.0,1205.0C309.3,1205.0 333.5,1182.8 298.0,1150.0C262.5,1117.2 251.5,1128.7 212.0,1082.0C172.5,1035.3 138.5,1016.9 150.0,975.0Z" fill="#BB8465"/>
<path d="M1010.0,895.0C1053.5,879.5 1102.2,896.5 1115.0,940.0C1127.8,983.5 1098.0,1007.3 1058.0,1058.0C1018.0,1108.7 996.5,1096.1 965.0,1130.0C933.5,1163.9 971.2,1179.7 940.0,1185.0C908.8,1190.3 864.0,1175.9 848.0,1150.0C832.0,1124.1 852.3,1128.5 880.0,1088.0C907.7,1047.5 917.3,1049.5 952.0,998.0C986.7,946.5 966.5,910.5 1010.0,895.0Z" fill="#BB8465"/>
<path d="M520.0,400.0C493.3,395.0 481.7,426.7 450.0,440.0C418.3,453.3 363.3,460.0 330.0,480.0C296.7,500.0 271.7,531.7 250.0,560.0C228.3,588.3 218.3,613.3 200.0,650.0C181.7,686.7 157.5,741.7 140.0,780.0C122.5,818.3 104.2,855.8 95.0,880.0C85.8,904.2 78.3,906.7 85.0,925.0C91.7,943.3 103.8,989.2 135.0,990.0C166.2,990.8 239.5,961.7 272.0,930.0C304.5,898.3 313.3,838.3 330.0,800.0C346.7,761.7 364.0,683.3 372.0,700.0C380.0,716.7 377.5,833.3 378.0,900.0C378.5,966.7 377.7,1027.5 375.0,1100.0C372.3,1172.5 319.5,1293.3 362.0,1335.0C404.5,1376.7 541.7,1350.0 630.0,1350.0C718.3,1350.0 846.2,1376.7 892.0,1335.0C937.8,1293.3 903.7,1172.5 905.0,1100.0C906.3,1027.5 900.8,966.7 900.0,900.0C899.2,833.3 891.7,716.7 900.0,700.0C908.3,683.3 933.3,767.0 950.0,800.0C966.7,833.0 971.3,873.0 1000.0,898.0C1028.7,923.0 1094.0,952.2 1122.0,950.0C1150.0,947.8 1163.3,906.7 1168.0,885.0C1172.7,863.3 1161.3,847.5 1150.0,820.0C1138.7,792.5 1116.7,750.0 1100.0,720.0C1083.3,690.0 1068.3,668.3 1050.0,640.0C1031.7,611.7 1015.0,576.7 990.0,550.0C965.0,523.3 935.0,498.3 900.0,480.0C865.0,461.7 813.3,453.3 780.0,440.0C746.7,426.7 728.3,395.0 700.0,400.0C671.7,405.0 640.0,470.0 610.0,470.0C580.0,470.0 546.7,405.0 520.0,400.0Z" fill="url(#speck)"/>
<path d="M520.0,400.0C493.3,395.0 481.7,426.7 450.0,440.0C418.3,453.3 363.3,460.0 330.0,480.0C296.7,500.0 271.7,531.7 250.0,560.0C228.3,588.3 218.3,613.3 200.0,650.0C181.7,686.7 157.5,741.7 140.0,780.0C122.5,818.3 104.2,855.8 95.0,880.0C85.8,904.2 78.3,906.7 85.0,925.0C91.7,943.3 103.8,989.2 135.0,990.0C166.2,990.8 239.5,961.7 272.0,930.0C304.5,898.3 313.3,838.3 330.0,800.0C346.7,761.7 364.0,683.3 372.0,700.0C380.0,716.7 377.5,833.3 378.0,900.0C378.5,966.7 377.7,1027.5 375.0,1100.0C372.3,1172.5 319.5,1293.3 362.0,1335.0C404.5,1376.7 541.7,1350.0 630.0,1350.0C718.3,1350.0 846.2,1376.7 892.0,1335.0C937.8,1293.3 903.7,1172.5 905.0,1100.0C906.3,1027.5 900.8,966.7 900.0,900.0C899.2,833.3 891.7,716.7 900.0,700.0C908.3,683.3 933.3,767.0 950.0,800.0C966.7,833.0 971.3,873.0 1000.0,898.0C1028.7,923.0 1094.0,952.2 1122.0,950.0C1150.0,947.8 1163.3,906.7 1168.0,885.0C1172.7,863.3 1161.3,847.5 1150.0,820.0C1138.7,792.5 1116.7,750.0 1100.0,720.0C1083.3,690.0 1068.3,668.3 1050.0,640.0C1031.7,611.7 1015.0,576.7 990.0,550.0C965.0,523.3 935.0,498.3 900.0,480.0C865.0,461.7 813.3,453.3 780.0,440.0C746.7,426.7 728.3,395.0 700.0,400.0C671.7,405.0 640.0,470.0 610.0,470.0C580.0,470.0 546.7,405.0 520.0,400.0Z" fill="url(#shirtShade)"/>
<path d="M612,520 L608,1340" stroke="#1C3150" stroke-width="14" opacity="0.55" fill="none"/>
<path d="M332.0,1118.0C353.9,1099.3 368.5,1091.5 400.0,1100.0C431.5,1108.5 438.8,1114.0 450.0,1150.0C461.2,1186.0 456.7,1201.7 442.0,1235.0C427.3,1268.3 422.7,1274.2 395.0,1275.0C367.3,1275.8 358.5,1266.0 338.0,1238.0C317.5,1210.0 319.6,1202.0 318.0,1170.0C316.4,1138.0 310.1,1136.7 332.0,1118.0Z" fill="#BB8465"/>
<path d="M838.0,1112.0C861.2,1094.7 873.8,1087.5 905.0,1095.0C936.2,1102.5 943.0,1110.7 955.0,1140.0C967.0,1169.3 966.0,1171.7 950.0,1205.0C934.0,1238.3 924.3,1256.2 895.0,1265.0C865.7,1273.8 860.5,1266.0 840.0,1238.0C819.5,1210.0 818.5,1193.6 818.0,1160.0C817.5,1126.4 814.8,1129.3 838.0,1112.0Z" fill="#BB8465"/>
<path d="M535.0,360.0L665.0,360.0L690.0,410.0L610.0,500.0L525.0,410.0Z" fill="#B98366"/>
<ellipse cx="598" cy="255" rx="118" ry="178" fill="#CF9C82"/>
<ellipse cx="480" cy="265" rx="14" ry="34" fill="#C08B70"/><ellipse cx="716" cy="265" rx="14" ry="34" fill="#C08B70"/>
<path d="M480.0,250.0C474.1,244.7 467.3,195.3 478.0,150.0C488.7,104.7 487.5,108.0 520.0,80.0C552.5,52.0 557.3,46.3 600.0,45.0C642.7,43.7 648.5,47.0 680.0,75.0C711.5,103.0 708.4,103.3 718.0,150.0C727.6,196.7 720.8,244.7 716.0,250.0C711.2,255.3 717.6,200.7 700.0,170.0C682.4,139.3 687.3,144.3 650.0,135.0C612.7,125.7 600.0,125.7 560.0,135.0C520.0,144.3 521.3,139.3 500.0,170.0C478.7,200.7 485.9,255.3 480.0,250.0Z" fill="#6E655C"/>
<path d="M520,232 Q550,218 580,230 M625,230 Q655,218 688,232" stroke="#5A4335" stroke-width="9" fill="none"/>
<ellipse cx="552" cy="250" rx="13" ry="7" fill="#3E2E28"/><ellipse cx="655" cy="250" rx="13" ry="7" fill="#3E2E28"/>
<path d="M560,335 Q602,350 645,335" stroke="#8A4F45" stroke-width="9" fill="none"/>
<path d="M500.0,300.0C494.7,300.0 493.3,345.3 520.0,380.0C546.7,414.7 557.3,430.0 600.0,430.0C642.7,430.0 653.3,414.7 680.0,380.0C706.7,345.3 705.3,300.0 700.0,300.0C694.7,300.0 686.7,354.7 660.0,380.0C633.3,405.3 632.0,395.0 600.0,395.0C568.0,395.0 566.7,405.3 540.0,380.0C513.3,354.7 505.3,300.0 500.0,300.0Z" fill="#A77D68" opacity="0.55"/>
</g>
<defs><clipPath id="clipPh"><rect x="50.4" y="447.4" width="327.5" height="405.3"/></clipPath><filter id="soft2" x="-5%" y="-5%" width="110%" height="110%"><feGaussianBlur stdDeviation="11"/></filter><filter id="soft3" x="-5%" y="-5%" width="110%" height="110%"><feGaussianBlur stdDeviation="4.5"/></filter><linearGradient id="bgPh" x1="0" y1="0" x2="1" y2="1"><stop offset="0" stop-color="#3C6FC4"/><stop offset="0.5" stop-color="#4A8AD8"/><stop offset="1" stop-color="#3A78CC"/></linearGradient></defs>
<g clip-path="url(#clipPh)"><rect x="50" y="447" width="329" height="407" fill="url(#bgPh)"/>
<g transform="translate(40,437) scale(0.29586)">
<g filter="url(#soft2)">
<path d="M420.0,60.0C601.3,36.0 962.7,-36.0 1160.0,60.0C1357.3,156.0 1202.7,297.3 1160.0,420.0C1117.3,542.7 1074.7,517.3 1000.0,520.0C925.3,522.7 933.3,488.7 880.0,430.0C826.7,371.3 864.0,369.3 800.0,300.0C736.0,230.7 725.3,210.0 640.0,170.0C554.7,130.0 538.7,179.3 480.0,150.0C421.3,120.7 238.7,84.0 420.0,60.0Z" fill="#86B9E8"/>
<path d="M860.0,330.0C934.7,260.7 1080.0,238.7 1160.0,300.0C1240.0,361.3 1208.0,469.3 1160.0,560.0C1112.0,650.7 1054.7,640.0 980.0,640.0C905.3,640.0 912.0,642.7 880.0,560.0C848.0,477.3 785.3,399.3 860.0,330.0Z" fill="#AED5EF"/>
<path d="M700.0,120.0C726.7,96.0 777.3,123.3 900.0,150.0C1022.7,176.7 1090.7,180.0 1160.0,220.0C1229.3,260.0 1216.0,281.3 1160.0,300.0C1104.0,318.7 1046.0,306.0 950.0,290.0C854.0,274.0 866.7,285.3 800.0,240.0C733.3,194.7 673.3,144.0 700.0,120.0Z" fill="#2A5CB0"/>
<path d="M20.0,20.0L1160.0,20.0L1160.0,75.0L700.0,60.0L400.0,70.0L20.0,62.0Z" fill="#1F3F86"/>
<path d="M700.0,40.0C758.7,24.0 930.7,25.3 1000.0,40.0C1069.3,54.7 1018.7,79.0 960.0,95.0C901.3,111.0 849.3,114.7 780.0,100.0C710.7,85.3 641.3,56.0 700.0,40.0Z" fill="#213E8A"/>
<path d="M30.0,90.0C91.3,28.7 170.0,40.7 250.0,70.0C330.0,99.3 332.7,117.3 330.0,200.0C327.3,282.7 312.0,321.3 240.0,380.0C168.0,438.7 118.7,441.3 60.0,420.0C1.3,398.7 28.0,388.0 20.0,300.0C12.0,212.0 -31.3,151.3 30.0,90.0Z" fill="#5E9BE0"/>
<path d="M30.0,430.0C78.0,323.3 144.0,354.7 200.0,400.0C256.0,445.3 240.0,466.7 240.0,600.0C240.0,733.3 248.0,793.3 200.0,900.0C152.0,1006.7 108.0,1026.7 60.0,1000.0C12.0,973.3 28.0,952.0 20.0,800.0C12.0,648.0 -18.0,536.7 30.0,430.0Z" fill="#3568C0"/>
<path d="M40.0,850.0C82.7,775.3 141.3,790.7 200.0,820.0C258.7,849.3 260.0,890.7 260.0,960.0C260.0,1029.3 258.7,1042.7 200.0,1080.0C141.3,1117.3 82.7,1161.3 40.0,1100.0C-2.7,1038.7 -2.7,924.7 40.0,850.0Z" fill="#6FAAE3"/>
<path d="M1160.0,585.0L1160.0,1320.0L900.0,1150.0L740.0,980.0L800.0,880.0L1000.0,700.0Z" fill="#5F5C62"/>
<path d="M20.0,1140.0C64.0,1071.0 184.0,1063.0 240.0,1075.0C296.0,1087.0 258.0,1161.0 300.0,1200.0C342.0,1239.0 370.0,1262.0 450.0,1270.0C530.0,1278.0 607.0,1267.0 700.0,1240.0C793.0,1213.0 823.0,1125.0 915.0,1135.0C1007.0,1145.0 1111.0,1233.0 1160.0,1290.0C1209.0,1347.0 1388.0,1394.0 1160.0,1420.0C932.0,1446.0 248.0,1476.0 20.0,1420.0C-208.0,1364.0 -24.0,1209.0 20.0,1140.0Z" fill="#D9D5D0"/>
</g>
<g filter="url(#soft3)">
<path d="M20.0,1215.0L95.0,1150.0L112.0,1250.0L250.0,1262.0L140.0,1325.0L100.0,1420.0L20.0,1420.0Z" fill="#4448A4"/>
<path d="M735.0,1335.0L900.0,1342.0L1012.0,1288.0L1002.0,1380.0L960.0,1420.0L790.0,1420.0Z" fill="#4448A4"/>
<path d="M300.0,900.0L790.0,900.0L770.0,1120.0L500.0,1160.0L300.0,1090.0Z" fill="#C98A6A"/>
<path d="M238.0,1082.0C237.1,1037.2 268.2,1022.7 292.0,1018.0C315.8,1013.3 291.5,1040.1 340.0,1062.0C388.5,1083.9 406.2,1105.0 500.0,1112.0C593.8,1119.0 680.9,1127.0 742.0,1092.0C803.1,1057.0 736.3,987.7 762.0,962.0C787.7,936.3 815.6,941.4 852.0,982.0C888.4,1022.6 953.0,1075.8 918.0,1136.0C883.0,1196.2 811.2,1208.3 702.0,1240.0C592.8,1271.7 544.7,1279.0 450.0,1272.0C355.3,1265.0 345.5,1254.3 296.0,1210.0C246.5,1165.7 238.9,1126.8 238.0,1082.0Z" fill="#1E7A46"/>
<path d="M250.0,1078.0C247.0,1038.3 271.0,1025.7 292.0,1022.0C313.0,1018.3 291.5,1041.0 340.0,1062.0C388.5,1083.0 406.2,1105.0 500.0,1112.0C593.8,1119.0 680.9,1126.1 742.0,1092.0C803.1,1057.9 737.3,990.7 762.0,966.0C786.7,941.3 815.3,948.7 848.0,986.0C880.7,1023.3 936.5,1071.9 902.0,1126.0C867.5,1180.1 805.0,1189.1 700.0,1218.0C595.0,1246.9 544.2,1256.1 452.0,1250.0C359.8,1243.9 352.1,1232.1 305.0,1192.0C257.9,1151.9 253.0,1117.7 250.0,1078.0Z" fill="#3A44B4"/>
<ellipse cx="238" cy="680" rx="34" ry="85" fill="#D99C7E"/><ellipse cx="868" cy="690" rx="34" ry="85" fill="#D99C7E"/>
<path d="M255.0,560.0C265.5,452.0 208.5,480.0 300.0,420.0C391.5,360.0 407.0,357.0 560.0,360.0C713.0,363.0 724.5,358.0 810.0,430.0C895.5,502.0 839.0,495.0 845.0,600.0C851.0,705.0 852.5,681.0 830.0,780.0C807.5,879.0 821.0,852.0 770.0,930.0C719.0,1008.0 729.0,996.5 660.0,1040.0C591.0,1083.5 612.0,1075.0 540.0,1075.0C468.0,1075.0 486.0,1083.5 420.0,1040.0C354.0,996.5 366.5,1008.0 320.0,930.0C273.5,852.0 284.5,891.0 265.0,780.0C245.5,669.0 244.5,668.0 255.0,560.0Z" fill="#E3A485"/>
<path d="M250.0,600.0C242.0,565.3 239.3,510.0 250.0,430.0C260.7,350.0 255.3,356.0 290.0,300.0C324.7,244.0 329.3,254.1 380.0,220.0C430.7,185.9 421.3,188.0 480.0,172.0C538.7,156.0 540.0,155.7 600.0,160.0C660.0,164.3 655.7,164.0 705.0,188.0C754.3,212.0 750.3,209.5 785.0,250.0C819.7,290.5 814.5,286.7 835.0,340.0C855.5,393.3 857.5,383.3 862.0,450.0C866.5,516.7 861.6,576.7 852.0,590.0C842.4,603.3 842.5,540.0 826.0,500.0C809.5,460.0 823.6,464.0 790.0,440.0C756.4,416.0 750.7,424.7 700.0,410.0C649.3,395.3 666.7,389.8 600.0,385.0C533.3,380.2 519.3,381.3 450.0,392.0C380.7,402.7 380.0,401.5 340.0,425.0C300.0,448.5 316.0,444.0 300.0,480.0C284.0,516.0 293.3,528.0 280.0,560.0C266.7,592.0 258.0,634.7 250.0,600.0Z" fill="#B5713A"/>
<path d="M330.0,330.0C343.3,290.0 358.0,264.7 430.0,230.0C502.0,195.3 522.7,194.7 600.0,200.0C677.3,205.3 677.3,215.3 720.0,250.0C762.7,284.7 781.3,316.7 760.0,330.0C738.7,343.3 714.7,305.3 640.0,300.0C565.3,294.7 549.3,288.7 480.0,310.0C410.7,331.3 420.0,374.7 380.0,380.0C340.0,385.3 316.7,370.0 330.0,330.0Z" fill="#D59757" opacity="0.8"/>
<path d="M325,600 Q400,565 480,588 M575,590 Q660,575 735,612" stroke="#8A5A3C" stroke-width="20" fill="none" stroke-linecap="round"/>
<ellipse cx="395" cy="622" rx="42" ry="17" fill="#5B3A2C"/><ellipse cx="632" cy="638" rx="42" ry="17" fill="#5B3A2C"/>
<path d="M440.0,660.0C456.0,633.3 473.3,613.3 500.0,640.0C526.7,666.7 524.0,720.0 540.0,760.0C556.0,800.0 573.3,778.0 560.0,790.0C546.7,802.0 527.3,807.7 490.0,805.0C452.7,802.3 433.3,797.3 420.0,780.0C406.7,762.7 434.7,772.0 440.0,740.0C445.3,708.0 424.0,686.7 440.0,660.0Z" fill="#CF8868" opacity="0.75"/>
<path d="M385.0,848.0C402.3,833.3 425.3,837.5 480.0,838.0C534.7,838.5 551.3,848.9 590.0,850.0C628.7,851.1 626.3,828.7 625.0,842.0C623.7,855.3 621.0,880.5 585.0,900.0C549.0,919.5 535.3,916.9 490.0,915.0C444.7,913.1 443.0,910.9 415.0,893.0C387.0,875.1 367.7,862.7 385.0,848.0Z" fill="#A9564E"/>
<path d="M415.0,862.0C431.0,855.1 446.0,853.5 490.0,854.0C534.0,854.5 560.0,856.5 580.0,864.0C600.0,871.5 589.0,875.6 565.0,882.0C541.0,888.4 526.0,888.5 490.0,888.0C454.0,887.5 450.0,886.9 430.0,880.0C410.0,873.1 399.0,868.9 415.0,862.0Z" fill="#E8D8CE"/>
<path d="M300.0,800.0C294.7,805.3 296.0,890.7 360.0,960.0C424.0,1029.3 444.0,1054.7 540.0,1060.0C636.0,1065.3 650.7,1049.3 720.0,980.0C789.3,910.7 805.3,810.7 800.0,800.0C794.7,789.3 769.3,886.7 700.0,940.0C630.7,993.3 625.3,1000.0 540.0,1000.0C454.7,1000.0 444.0,993.3 380.0,940.0C316.0,886.7 305.3,794.7 300.0,800.0Z" fill="#D08F74" opacity="0.6"/>
</g></g></g>
</svg>
</body></html>
